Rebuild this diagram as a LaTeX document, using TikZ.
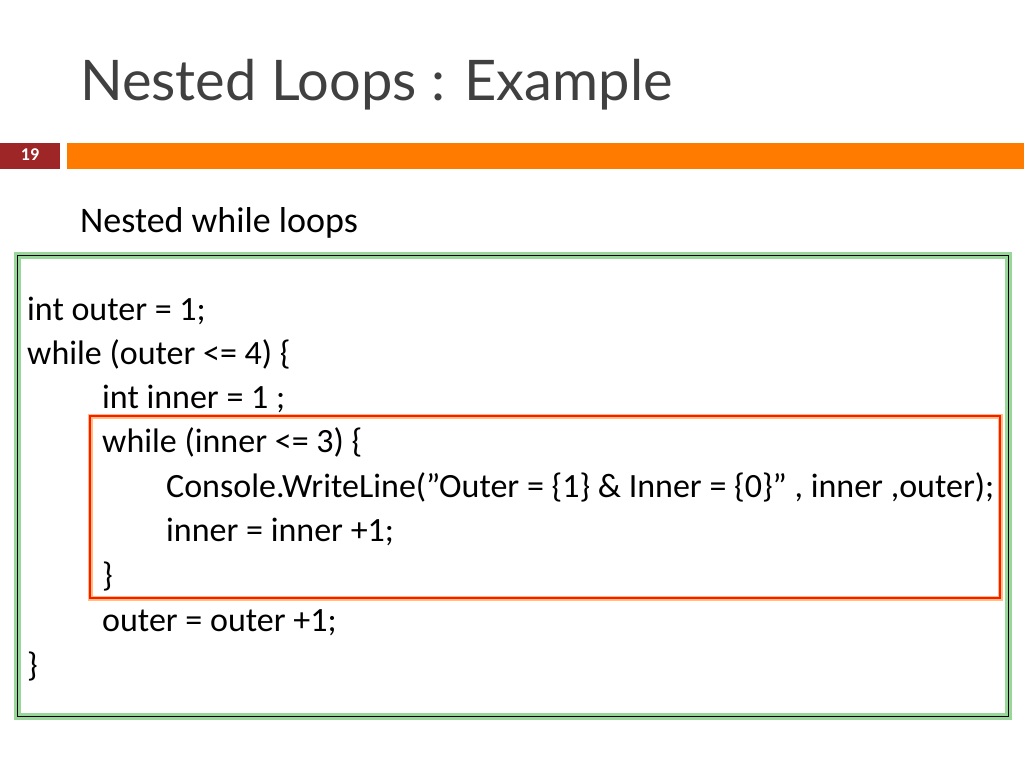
\documentclass[tikz,border=0pt]{standalone}
\usepackage{fontspec}
\setmainfont{Carlito}
\newfontfamily\titlefont{Lato}
\usepackage{amsmath}

\begin{document}
\begin{tikzpicture}[x=1pt, y=-1pt]
				\tikzset{codeline/.style={anchor=base west, inner sep=0pt, font=\fontsize{34}{40}\selectfont}}
				\useasboundingbox (0,0) rectangle (1024,768);
				\fill[white] (0,0) rectangle (1024,768);
				\node[anchor=base west, inner sep=0pt, font=\titlefont\fontsize{56}{64}\selectfont, text=black!75] (title)at(80, 100) {Nested Loops : Example};
				\fill[red!55!black!85!white] (0,143) rectangle (60,169);
				\fill[orange!85!red!90!yellow] (67,143) rectangle (1024,169);
				\node[font=\bfseries\fontsize{18}{20}\selectfont, text=white] (num)at(30, 155) {19};
				\node[anchor=base west, inner sep=0pt, font=\fontsize{36}{42}\selectfont] (sub)at(80, 232) {Nested while loops};
				\draw[green!60!black!40, line width=7pt] (17,255) rectangle (1008,716);
				\draw[black, line width=0.8pt] (17,255) rectangle (1008,716);
				\draw[orange!50, line width=5pt] (90,416) rectangle (1000,598);
				\draw[red!80!orange, line width=1.2pt] (90,416) rectangle (1000,598);
				\node[codeline] (L1)at(27, 320) {int outer = 1;};
				\node[codeline] (L2)at(27, 364) {while (outer <= 4) \{};
				\node[codeline] (L3)at(102, 408) {int inner = 1 ;};
				\node[codeline] (L4)at(102, 452) {while (inner <= 3) \{};
				\node[codeline] (L5)at(166, 497) {Console.WriteLine(\symbol{34}Outer = \{1\} \& Inner = \{0\}\symbol{34} , inner ,outer);};
				\node[codeline] (L6)at(166, 541) {inner = inner +1;};
				\node[codeline] (L7)at(102, 586) {\}};
				\node[codeline] (L8)at(102, 631) {outer = outer +1;};
				\node[codeline] (L9)at(27, 676) {\}};
			\end{tikzpicture}
\end{document}
